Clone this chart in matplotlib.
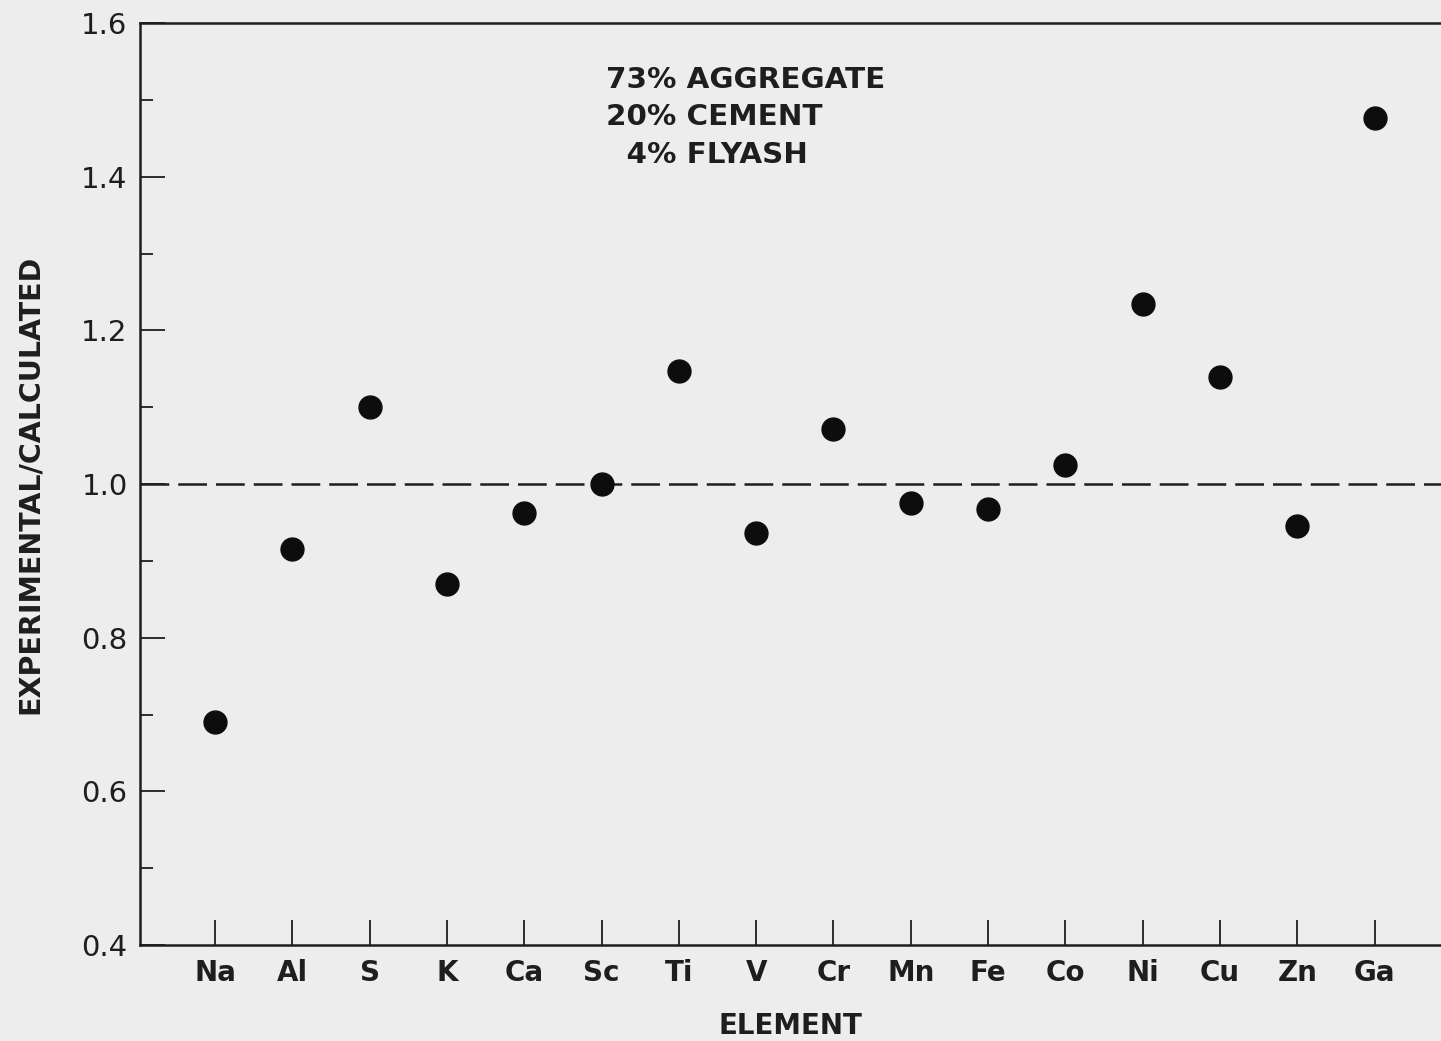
import matplotlib.pyplot as plt
from matplotlib.ticker import MultipleLocator

elements = ['Na', 'Al', 'S', 'K', 'Ca', 'Sc', 'Ti', 'V', 'Cr', 'Mn',
            'Fe', 'Co', 'Ni', 'Cu', 'Zn', 'Ga']
ratio = [0.69, 0.915, 1.10, 0.87, 0.963, 1.0, 1.147, 0.937, 1.072, 0.975,
         0.967, 1.025, 1.235, 1.14, 0.945, 1.477]
mix_lines = ['73% AGGREGATE', '20% CEMENT', '  4% FLYASH']

ink = '#1e1e1e'
paper = '#ededed'

plt.rcParams['font.family'] = ['DejaVu Sans']

fig = plt.figure(figsize=(14.41, 10.41), dpi=100, facecolor=paper)
ax = fig.add_axes([0.0972, 0.0922, 0.9028, 0.8855])
ax.set_facecolor(paper)

x = list(range(len(elements)))
ax.plot(x, ratio, 'o', color='#0d0d0d', markersize=16.5, linestyle='none',
        zorder=3)
ax.axhline(1.0, color=ink, lw=1.8, dashes=(11.5, 3.6), zorder=2)

ax.set_xlim(-0.97, 15.86)
ax.set_ylim(0.4, 1.6)

ax.set_xticks(x)
ax.set_xticklabels(elements, fontsize=20, fontweight='bold', color=ink)
ax.yaxis.set_minor_locator(MultipleLocator(0.1))
ax.set_yticks([0.4, 0.6, 0.8, 1.0, 1.2, 1.4, 1.6])
ax.set_yticklabels(['0.4', '0.6', '0.8', '1.0', '1.2', '1.4', '1.6'],
                   fontsize=21, color=ink)

ax.tick_params(axis='x', which='major', direction='in', length=18,
               width=1.3, color=ink, pad=10)
ax.tick_params(axis='y', which='major', direction='in', length=18,
               width=1.3, color=ink, pad=9)
ax.tick_params(axis='y', which='minor', direction='in', length=9,
               width=1.3, color=ink)
ax.tick_params(top=False, right=False)

for side in ['left', 'bottom', 'top']:
    ax.spines[side].set_linewidth(1.8)
    ax.spines[side].set_color(ink)
ax.spines['right'].set_visible(False)

ax.set_xlabel('ELEMENT', fontsize=20, fontweight='bold', color=ink,
              labelpad=18)
ax.set_ylabel('EXPERIMENTAL/CALCULATED', fontsize=20.5, fontweight='bold',
              color=ink, labelpad=27)

for i, line in enumerate(mix_lines):
    ax.text(0.358, 0.9385 - i * 0.0407, line, transform=ax.transAxes,
            fontsize=21.2, fontweight='bold', color=ink, ha='left',
            va='center')

fig.savefig('out.png', dpi=100, facecolor=paper)
